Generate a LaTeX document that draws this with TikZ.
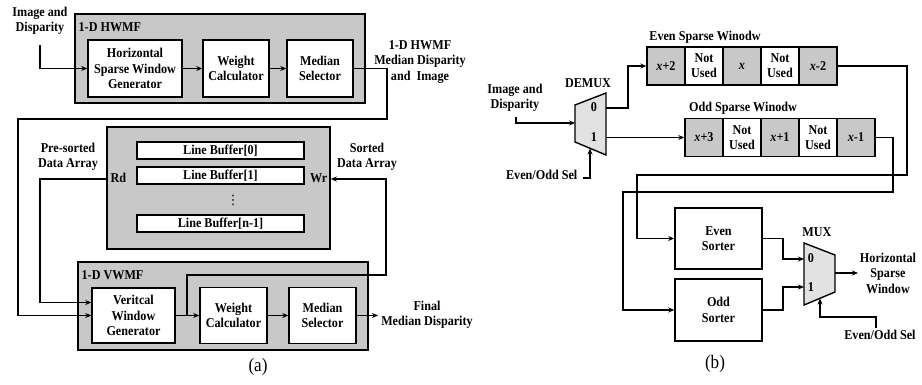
\documentclass[tikz,border=0pt]{standalone}
\usepackage{fontspec}
\setmainfont{Liberation Serif}[FakeStretch=0.9]
\newfontfamily\symfont{DejaVu Sans}
\usetikzlibrary{arrows.meta,calc}
\definecolor{graybg}{RGB}{200,200,200}
\definecolor{muxfill}{RGB}{226,226,226}
\begin{document}
\begin{tikzpicture}[x=1pt,y=-1pt,
  font=\fontsize{13.5}{15.5}\selectfont\bfseries,
  line width=1.3pt,
  grp/.style={draw, fill=graybg, line width=1.5pt, inner sep=0pt},
  blk/.style={draw, fill=white, align=center, inner sep=0pt, line width=1.5pt},
  arr/.style={-{Stealth[length=6pt,width=5pt]}},
  lbl/.style={align=center, inner sep=0pt},
  cellw/.style={draw, fill=white, minimum width=38pt, minimum height=38pt, inner sep=0pt, align=center, line width=1.4pt, font=\fontsize{13.5}{15}\selectfont\bfseries},
  cellg/.style={cellw, fill=graybg},
  figcap/.style={inner sep=0pt, font=\fontsize{19}{22}\selectfont},
]
\useasboundingbox (0,0) rectangle (922,385);

% ---------------- (a) ----------------
\node[grp, minimum width=290pt, minimum height=89pt] (hw) at (220,58.5) {};
\node[lbl, anchor=west] (hwt) at (78,27) {1-D HWMF};
\node[blk, minimum width=94pt, minimum height=57pt] (hs) at (135,68.5) {Horizontal\\Sparse Window\\Generator};
\node[blk, minimum width=66pt, minimum height=57pt] (wc1) at (236,68.5) {Weight\\Calculator};
\node[blk, minimum width=66pt, minimum height=57pt] (ms1) at (320,68.5) {Median\\Selector};
\draw[arr] (hs) -- (wc1);
\draw[arr] (wc1) -- (ms1);

\node[lbl] (imga) at (40,21) {Image and\\Disparity};
\coordinate (ina) at (40,45);
\draw[arr] (ina) |- (hs.west);

\node[lbl] (hwout) at (420,62) {1-D HWMF\\Median Disparity\\and~~Image};

% line buffer
\node[grp, minimum width=223pt, minimum height=122pt] (lb) at (218.5,188) {};
\node[blk, minimum width=167pt, minimum height=17pt] (lb0) at (220.5,150.5) {Line Buffer[0]};
\node[blk, minimum width=167pt, minimum height=17pt] (lb1) at (220.5,175.5) {Line Buffer[1]};
\node[lbl, font=\symfont\fontsize{13}{13}\selectfont] (dots) at (233,200) {⋮};
\node[blk, minimum width=167pt, minimum height=17pt] (lbn) at (220.5,223.5) {Line Buffer[n-1]};
\node[lbl, anchor=west] (rd) at (110,178) {Rd};
\node[lbl, anchor=east] (wr) at (328,178) {Wr};
\node[lbl] (pre) at (68,157) {Pre-sorted\\Data Array};
\node[lbl] (post) at (367,157) {Sorted\\Data Array};

% VWMF
\node[grp, minimum width=290pt, minimum height=88pt] (vw) at (223,306) {};
\node[lbl, anchor=west] (vwt) at (81,275) {1-D VWMF};
\node[blk, minimum width=83pt, minimum height=55pt] (vg) at (133.5,315.5) {Veritcal\\Window\\Generator};
\node[blk, minimum width=67pt, minimum height=56pt] (wc2) at (233.5,315.5) {Weight\\Calculator};
\node[blk, minimum width=67pt, minimum height=56pt] (ms2) at (322.5,315.5) {Median\\Selector};
\draw[arr] (vg) -- (wc2);
\draw[arr] (wc2) -- (ms2);
\coordinate (fo) at (378,315.5);
\draw[arr] (ms2) -- (fo);
\node[lbl] (final) at (427,315) {Final\\Median Disparity};

% HWMF output to VWMF
\coordinate (h1) at (387,119);
\coordinate (h2) at (18,119);
\draw[arr] (ms1.east) -| (h1) -- (h2) |- (vg.west);

% Rd path
\coordinate (r1) at (40,179);
\coordinate (vgup) at ($(vg.west)+(0,-13)$);
\draw[arr] (lb.west |- r1) -- (r1) |- (vgup);

% Wr path
\coordinate (w0) at (187,315.5);
\coordinate (w1) at (386,275);
\coordinate (w2) at (386,179);
\draw[arr] (w0) |- (w1) -- (w2) -- (lb.east |- w2);

\node[figcap] (capa) at (258,367) {(a)};

% ---------------- (b) ----------------
\node[lbl] (evt) at (705,37) {Even Sparse Winodw};
\node[cellg] (e1) at (666,66) {\textit{x}+2};
\node[cellw] (e2) at (704,66) {Not\\Used};
\node[cellg] (e3) at (742,66) {\textit{x}};
\node[cellw] (e4) at (780,66) {Not\\Used};
\node[cellg] (e5) at (818,66) {\textit{x}-2};

\node[lbl] (odt) at (743,108) {Odd Sparse Winodw};
\node[cellg] (o1) at (704,137.5) {\textit{x}+3};
\node[cellw] (o2) at (742,137.5) {Not\\Used};
\node[cellg] (o3) at (780,137.5) {\textit{x}+1};
\node[cellw] (o4) at (818,137.5) {Not\\Used};
\node[cellg] (o5) at (856,137.5) {\textit{x}-1};

% DEMUX
\draw[fill=muxfill, line width=1.4pt] (575,105) -- (606,93) -- (606,155) -- (575,142) -- cycle;
\coordinate (dm0) at (606,108);
\coordinate (dm1) at (606,137.5);
\coordinate (dmin) at (575,123);
\coordinate (dmsel) at (590,148.5);
\node[lbl] (dmt) at (588,83) {DEMUX};
\node[lbl] (dml0) at (594,107) {0};
\node[lbl] (dml1) at (594,137) {1};

\node[lbl] (imgb) at (515,98) {Image and\\Disparity};
\coordinate (inb) at (516,117);
\draw[arr] (inb) |- (dmin);
\node[lbl, anchor=east] (sel1) at (578,175) {Even/Odd Sel};
\coordinate (s1a) at (583,178);
\draw[arr] (s1a) -| (dmsel);

\draw[arr] (dm0) -- (628,108) |- (e1.west);
\draw[arr] (dm1) -- (o1.west);

% sorters
\node[blk, minimum width=87pt, minimum height=61pt] (es) at (718.5,238.5) {Even\\Sorter};
\node[blk, minimum width=87pt, minimum height=62pt] (os) at (718.5,310) {Odd\\Sorter};

\coordinate (ev1) at (907,175);
\coordinate (ev2) at (637,175);
\draw[arr] (e5.east) -| (ev1) -- (ev2) |- (es.west);
\coordinate (od1) at (893,192);
\coordinate (od2) at (623,192);
\draw[arr] (o5.east) -| (od1) -- (od2) |- (os.west);

% MUX
\draw[fill=muxfill, line width=1.4pt] (804,243) -- (835,255) -- (835,292) -- (804,305) -- cycle;
\coordinate (mx0) at (804,259);
\coordinate (mx1) at (804,287);
\coordinate (mxo) at (835,273);
\coordinate (mxs) at (820,298.5);
\node[lbl] (mxt) at (817,232) {MUX};
\node[lbl] (mxl0) at (811,258) {0};
\node[lbl] (mxl1) at (811,287) {1};

\draw[arr] (es.east) -- (783,238.5) |- (mx0);
\draw[arr] (os.east) -- (783,310) |- (mx1);
\coordinate (hsw) at (858,273);
\draw[arr] (mxo) -- (hsw);
\node[lbl] (hswt) at (888,273) {Horizontal\\Sparse\\Window};

\node[lbl] (sel2) at (880,335) {Even/Odd Sel};
\coordinate (s2a) at (876,328);
\coordinate (s2b) at (820,317);
\draw[arr] (s2a) |- (s2b) -- (mxs);

\node[figcap] (capb) at (715,364) {(b)};
\end{tikzpicture}
\end{document}
